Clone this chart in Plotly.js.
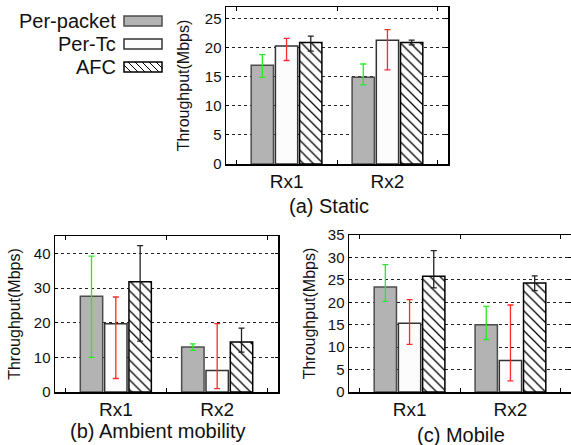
<!DOCTYPE html>
<html>
<head>
<meta charset="utf-8">
<script src="https://cdn.plot.ly/plotly-3.0.1.min.js"></script>
<style>html,body{margin:0;padding:0;background:#fff}#chart{width:571px;height:445px}</style>
</head>
<body>
<div id="chart"></div>
<script>
// ---- data ----
const categories = ['Rx1', 'Rx2'];
const seriesNames = ['Per-packet', 'Per-Tc', 'AFC'];

// (a) Static
const staticPerPacket = [17.0, 14.9];
const staticPerPacketLo = [14.9, 13.6];
const staticPerPacketHi = [18.8, 17.2];
const staticPerTc = [20.3, 21.3];
const staticPerTcLo = [17.8, 16.2];
const staticPerTcHi = [21.6, 23.1];
const staticAFC = [20.9, 20.9];
const staticAFCLo = [19.4, 20.5];
const staticAFCHi = [22.0, 21.3];

// (b) Ambient mobility
const ambientPerPacket = [27.6, 13.0];
const ambientPerPacketLo = [10.0, 12.0];
const ambientPerPacketHi = [39.2, 13.9];
const ambientPerTc = [19.7, 6.2];
const ambientPerTcLo = [3.9, 1.0];
const ambientPerTcHi = [27.4, 19.7];
const ambientAFC = [31.8, 14.4];
const ambientAFCLo = [14.7, 11.5];
const ambientAFCHi = [42.2, 18.4];

// (c) Mobile
const mobilePerPacket = [23.4, 15.0];
const mobilePerPacketLo = [20.2, 11.7];
const mobilePerPacketHi = [28.4, 19.1];
const mobilePerTc = [15.3, 7.0];
const mobilePerTcLo = [10.6, 2.5];
const mobilePerTcHi = [20.6, 19.4];
const mobileAFC = [25.8, 24.3];
const mobileAFCLo = [23.2, 22.6];
const mobileAFCHi = [31.5, 25.9];

const panelTitles = ['(a) Static', '(b) Ambient mobility', '(c) Mobile'];
const yTitle = 'Throughput(Mbps)';

// ---- styles ----
const FONT = 'Liberation Sans, Arial, Helvetica, sans-serif';
const W = 571, H = 445;
const px = x => x / W;
const py = y => 1 - y / H;

const styles = [
  {fill: '#b3b3b3', line: '#4d4d4d', err: '#22ee22'},
  {fill: '#fcfcfc', line: '#333333', err: '#ff2a2a'},
  {fill: '#ffffff', line: '#000000', err: '#222222', hatch: true}
];

function makeTraces(vals, los, his, xa, ya) {
  return vals.map((v, i) => {
    const s = styles[i];
    const marker = {color: s.fill, line: {color: s.line, width: 1.5}};
    if (s.hatch) marker.pattern = {shape: '\\', fgcolor: '#000', bgcolor: '#fff', size: 7, solidity: 0.18};
    return {
      type: 'bar', x: categories, y: v, name: seriesNames[i],
      xaxis: xa, yaxis: ya, marker: marker, showlegend: false,
      error_y: {
        type: 'data', symmetric: false,
        array: v.map((d, k) => his[i][k] - d),
        arrayminus: v.map((d, k) => d - los[i][k]),
        color: s.err, thickness: 1.3, width: 3
      },
      hoverinfo: 'x+y'
    };
  });
}

const traces = [].concat(
  makeTraces([staticPerPacket, staticPerTc, staticAFC],
             [staticPerPacketLo, staticPerTcLo, staticAFCLo],
             [staticPerPacketHi, staticPerTcHi, staticAFCHi], 'x', 'y'),
  makeTraces([ambientPerPacket, ambientPerTc, ambientAFC],
             [ambientPerPacketLo, ambientPerTcLo, ambientAFCLo],
             [ambientPerPacketHi, ambientPerTcHi, ambientAFCHi], 'x2', 'y2'),
  makeTraces([mobilePerPacket, mobilePerTc, mobileAFC],
             [mobilePerPacketLo, mobilePerTcLo, mobileAFCLo],
             [mobilePerPacketHi, mobilePerTcHi, mobileAFCHi], 'x3', 'y3')
);

function xAxis(domain, anchor) {
  return {
    domain: domain, anchor: anchor, type: 'category', range: [-0.6, 1.6],
    showline: true, linecolor: '#000', linewidth: 1.5, mirror: 'ticks',
    ticks: 'inside', tickson: 'boundaries', ticklen: 4, tickcolor: '#000',
    showgrid: false, zeroline: false, fixedrange: true,
    tickfont: {family: FONT, size: 19, color: '#111'}
  };
}
function yAxis(domain, anchor, range, dtick, standoff) {
  return {
    domain: domain, anchor: anchor, range: range, dtick: dtick,
    showline: true, linecolor: '#000', linewidth: 1.5, mirror: 'ticks',
    ticks: 'inside', ticklen: 3, tickcolor: '#000',
    showgrid: true, gridcolor: '#222', griddash: 'dot', gridwidth: 1,
    zeroline: false, fixedrange: true,
    tickfont: {family: FONT, size: 15, color: '#111'},
    title: {text: yTitle, font: {family: FONT, size: 16, color: '#111'}, standoff: standoff}
  };
}

const shapes = [];
const annotations = [];

// captions
annotations.push({xref: 'paper', yref: 'paper', x: px(329), y: py(206), text: panelTitles[0], showarrow: false,
  font: {family: FONT, size: 20, color: '#111'}, xanchor: 'center', yanchor: 'middle'});
annotations.push({xref: 'paper', yref: 'paper', x: px(158), y: py(431), text: panelTitles[1], showarrow: false,
  font: {family: FONT, size: 20, color: '#111'}, xanchor: 'center', yanchor: 'middle'});
annotations.push({xref: 'paper', yref: 'paper', x: px(461), y: py(435), text: panelTitles[2], showarrow: false,
  font: {family: FONT, size: 20, color: '#111'}, xanchor: 'center', yanchor: 'middle'});

// manual legend (text left of swatch)
const legY = [21, 44, 67];
seriesNames.forEach((n, i) => {
  annotations.push({xref: 'paper', yref: 'paper', x: px(118), y: py(legY[i]), text: n, showarrow: false,
    font: {family: FONT, size: 20, color: '#111'}, xanchor: 'right', yanchor: 'middle'});
  const x0 = 124, x1 = 162, y0 = legY[i] - 5, y1 = legY[i] + 5;
  const s = styles[i];
  shapes.push({type: 'rect', xref: 'paper', yref: 'paper', x0: px(x0), x1: px(x1), y0: py(y0), y1: py(y1),
    fillcolor: s.fill, line: {color: s.line, width: 1.5}});
  if (s.hatch) {
    const h = y1 - y0;
    let path = '';
    for (let k = -h; k < (x1 - x0); k += 7) {
      let sx = x0 + k, sy = y0, ex = x0 + k + h, ey = y1;
      if (sx < x0) { sy = y0 + (x0 - sx); sx = x0; }
      if (ex > x1) { ey = y1 - (ex - x1); ex = x1; }
      path += `M${px(sx)},${py(sy)} L${px(ex)},${py(ey)} `;
    }
    shapes.push({type: 'path', xref: 'paper', yref: 'paper', path: path, line: {color: '#000', width: 1}});
  }
});

const layout = {
  width: W, height: H,
  margin: {l: 0, r: 0, t: 0, b: 0},
  paper_bgcolor: '#fff', plot_bgcolor: '#fff',
  barmode: 'group', bargap: 0.28, bargroupgap: 0.08,
  showlegend: false,
  font: {family: FONT, color: '#111'},
  xaxis: xAxis([px(226), px(448)], 'y'),
  yaxis: yAxis([py(164), py(7)], 'x', [0, 27], 5, 11),
  xaxis2: xAxis([px(55), px(278)], 'y2'),
  yaxis2: yAxis([py(392), py(236)], 'x2', [0, 45], 10, 9),
  xaxis3: xAxis([px(349), 1], 'y3'),
  yaxis3: yAxis([py(392), py(235)], 'x3', [0, 35], 5, 8),
  shapes: shapes,
  annotations: annotations
};

Plotly.newPlot('chart', traces, layout, {displayModeBar: false, staticPlot: true});
</script>
</body>
</html>
